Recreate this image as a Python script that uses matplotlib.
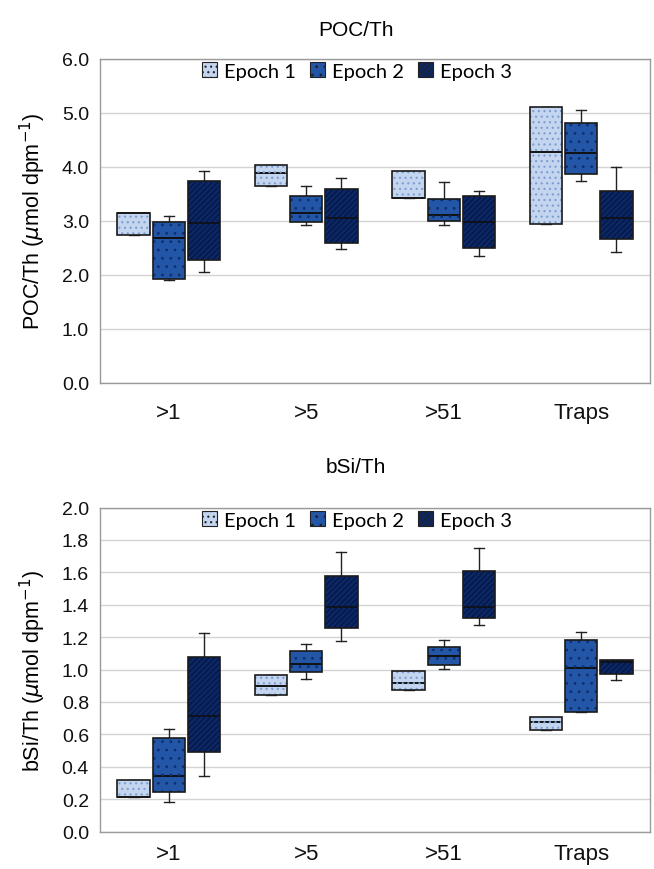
import matplotlib
matplotlib.use("Agg")
import matplotlib.pyplot as plt
from matplotlib.patches import Patch, PathPatch
import numpy as np

categories = ['>1', '>5', '>51', 'Traps']
epochs = ['Epoch 1', 'Epoch 2', 'Epoch 3']

# POC/Th box statistics, one row per epoch, one value per category
poc_lo  = [[2.74, 3.63, 3.42, 2.93], [1.90, 2.91, 2.91, 3.73], [2.04, 2.47, 2.34, 2.41]]
poc_q1  = [[2.74, 3.63, 3.42, 2.93], [1.92, 2.98, 3.00, 3.87], [2.26, 2.585, 2.49, 2.65]]
poc_med = [[3.13, 3.88, 3.42, 4.27], [2.68, 3.14, 3.11, 4.25], [2.96, 3.05, 2.98, 3.04]]
poc_q3  = [[3.13, 4.03, 3.92, 5.10], [2.975, 3.46, 3.40, 4.81], [3.74, 3.58, 3.445, 3.55]]
poc_hi  = [[3.13, 4.03, 3.92, 5.10], [3.09, 3.64, 3.71, 5.04], [3.92, 3.78, 3.55, 3.99]]

# bSi/Th box statistics
bsi_lo  = [[0.21, 0.845, 0.872, 0.626], [0.183, 0.944, 1.006, 0.738], [0.344, 1.173, 1.272, 0.938]]
bsi_q1  = [[0.21, 0.845, 0.872, 0.626], [0.245, 0.986, 1.025, 0.738], [0.492, 1.254, 1.32, 0.975]]
bsi_med = [[0.21, 0.90, 0.917, 0.676], [0.344, 1.037, 1.083, 1.008], [0.711, 1.386, 1.386, 1.045]]
bsi_q3  = [[0.317, 0.965, 0.992, 0.707], [0.579, 1.116, 1.138, 1.18], [1.078, 1.576, 1.611, 1.056]]
bsi_hi  = [[0.317, 0.965, 0.992, 0.707], [0.635, 1.159, 1.18, 1.233], [1.223, 1.724, 1.747, 1.056]]

poc_ticks = [0.0, 1.0, 2.0, 3.0, 4.0, 5.0, 6.0]
bsi_ticks = [0.0, 0.2, 0.4, 0.6, 0.8, 1.0, 1.2, 1.4, 1.6, 1.8, 2.0]

face_colors = ['#c3d5ef', '#2356a6', '#0c2766']
hatch_colors = ['#7d9dd0', '#0f2f6e', '#04153f']
hatches = ['...', '..', '//////']

plt.rcParams['font.family'] = ['Liberation Sans', 'DejaVu Sans']
plt.rcParams['hatch.linewidth'] = 0.8

fig = plt.figure(figsize=(6.54, 8.70), dpi=100)
W, H = 654.0, 870.0
ax1 = fig.add_axes([100 / W, 1 - 383.5 / H, 550 / W, 324 / H])
ax2 = fig.add_axes([100 / W, 1 - 832.5 / H, 550 / W, 324 / H])

offsets = [-0.255, 0.0, 0.255]
box_w = 0.236


def draw(ax, lo, q1, med, q3, hi, ticks, ylabel, fmt, xpad):
    x = np.arange(len(categories))
    for e in range(len(epochs)):
        stats = []
        for c in range(len(categories)):
            stats.append(dict(whislo=lo[e][c], q1=q1[e][c], med=med[e][c],
                              q3=q3[e][c], whishi=hi[e][c], fliers=[]))
        res = ax.bxp(stats, positions=x + offsets[e], widths=box_w,
                     patch_artist=True, showfliers=False, capwidths=0.075,
                     boxprops=dict(facecolor=face_colors[e], edgecolor='#1a1a1a', linewidth=1.2),
                     medianprops=dict(color='#111111', linewidth=1.4),
                     whiskerprops=dict(color='#222222', linewidth=1.0),
                     capprops=dict(color='#222222', linewidth=1.0),
                     manage_ticks=False, zorder=3)
        for b in res['boxes']:
            ov = PathPatch(b.get_path(), facecolor='none', edgecolor=hatch_colors[e],
                           hatch=hatches[e], linewidth=0, zorder=3.1,
                           transform=b.get_transform())
            ax.add_patch(ov)
            b.set_zorder(3.2)
            b.set_facecolor('none')
            fill = PathPatch(b.get_path(), facecolor=face_colors[e], edgecolor='none',
                             zorder=3.0, transform=b.get_transform())
            ax.add_patch(fill)
    ax.set_xlim(-0.5, len(categories) - 0.5)
    ax.set_ylim(ticks[0], ticks[-1])
    ax.set_yticks(ticks)
    ax.set_yticklabels([fmt.format(t) for t in ticks], fontsize=14)
    ax.set_xticks(x)
    ax.set_xticklabels(categories, fontsize=16)
    ax.tick_params(axis='both', length=0, colors='#111111')
    ax.tick_params(axis='x', pad=xpad)
    ax.tick_params(axis='y', pad=8)
    ax.yaxis.grid(True, color='#d4d4d4', linewidth=1.0, zorder=0)
    ax.set_axisbelow(True)
    for s in ax.spines.values():
        s.set_color('#9a9a9a')
        s.set_linewidth(1.0)
    ax.set_ylabel(ylabel, fontsize=15.5)
    ax.yaxis.set_label_coords(-0.095, 0.5)
    handles = [Patch(facecolor=face_colors[e], edgecolor='#222222', hatch=hatches[e],
                     linewidth=0.8, label=epochs[e]) for e in range(len(epochs))]
    ax.legend(handles=handles, loc='center', bbox_to_anchor=(0.467, 0.962),
              ncol=3, frameon=False, handlelength=0.75,
              handleheight=0.75, handletextpad=0.35, columnspacing=0.7,
              prop={'family': ['Lato', 'DejaVu Sans'], 'size': 14.5})
    return ax


draw(ax1, poc_lo, poc_q1, poc_med, poc_q3, poc_hi, poc_ticks,
     r'POC/Th ($\mu$mol dpm$^{-1}$)', '{:.1f}', 14)
draw(ax2, bsi_lo, bsi_q1, bsi_med, bsi_q3, bsi_hi, bsi_ticks,
     r'bSi/Th ($\mu$mol dpm$^{-1}$)', '{:.1f}', 8)

fig.text(356 / W, 1 - 30 / H, 'POC/Th', ha='center', va='center', fontsize=15)
fig.text(356 / W, 1 - 468 / H, 'bSi/Th', ha='center', va='center', fontsize=15)

fig.savefig('out.png', dpi=100)
